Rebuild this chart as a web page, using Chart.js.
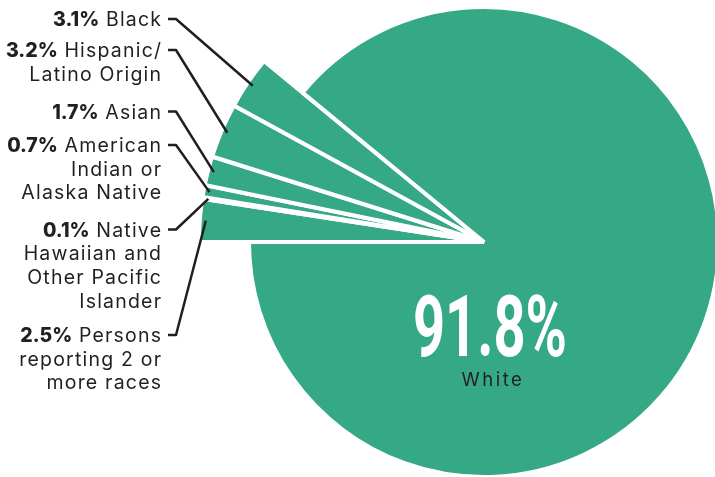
<!DOCTYPE html>
<html>
<head>
<meta charset="utf-8">
<script src="https://cdn.jsdelivr.net/npm/chart.js@4.4.1/dist/chart.umd.min.js"></script>
<style>
  html, body { margin: 0; padding: 0; background: #fff; }
  canvas { display: block; }
</style>
</head>
<body>
<canvas id="raceChart" width="715" height="477"></canvas>
<script>
// population share by race (%), listed clockwise starting at 9 o'clock
const categories = ['Persons reporting 2 or more races', 'Native Hawaiian and Other Pacific Islander',
  'American Indian or Alaska Native', 'Asian', 'Hispanic/Latino Origin', 'Black', 'White'];
const shares = [2.5, 0.1, 0.7, 1.7, 3.2, 3.1, 91.8];
// how each callout is broken into lines (the bold % goes in front of line 1)
const labelLines = [
  ['Persons', 'reporting 2 or', 'more races'],
  ['Native', 'Hawaiian and', 'Other Pacific', 'Islander'],
  ['American', 'Indian or', 'Alaska Native'],
  ['Asian'],
  ['Hispanic/', 'Latino Origin'],
  ['Black'],
  ['White']
];
const featured = 'White';

// --- look & layout ---
const GREEN = '#35a886';
const INK = '#231f20';
const FONT = 'Inter, "Open Sans", sans-serif';
const FS = 19.5;
const SPACING = 1.2;  // the original face is wider, spread letters a little
const LINE_H = 23.7;
const BIG_R = 235;    // featured slice
const SMALL_R = 285;  // the thin slices stick out further
const LABEL_RIGHT = 161;
const labelBaseline = [342, 236.5, 152, 118.5, 57, 26]; // baseline of first line per callout

// give the thin slices a bigger radius than the main one
const sliceRadius = {
  id: 'sliceRadius',
  beforeDatasetsDraw(chart) {
    chart.getDatasetMeta(0).data.forEach((arc, i) => {
      arc.outerRadius = categories[i] === featured ? BIG_R : SMALL_R;
    });
  }
};

const callouts = {
  id: 'callouts',
  afterDatasetsDraw(chart) {
    const ctx = chart.ctx;
    const arcs = chart.getDatasetMeta(0).data;
    ctx.save();
    ctx.textBaseline = 'alphabetic';
    const right = LABEL_RIGHT + SPACING; // trailing spacing is counted in the width

    arcs.forEach((arc, i) => {
      if (categories[i] === featured) return;
      const { x, y, startAngle, endAngle } = arc.getProps(['x', 'y', 'startAngle', 'endAngle'], true);
      const mid = (startAngle + endAngle) / 2;
      const base = labelBaseline[i];
      const lines = labelLines[i];

      ctx.fillStyle = INK;
      ctx.textAlign = 'right';
      ctx.letterSpacing = SPACING + 'px';
      ctx.font = `400 ${FS}px ${FONT}`;
      const rest = ' ' + lines[0];
      ctx.fillText(rest, right, base);
      const restW = ctx.measureText(rest).width;
      for (let k = 1; k < lines.length; k++) {
        ctx.fillText(lines[k], right, base + k * LINE_H);
      }
      ctx.letterSpacing = '0px';
      ctx.font = `800 ${FS}px ${FONT}`;
      ctx.fillText(shares[i].toFixed(1) + '%', right - restW, base);

      // leader line: short tick then straight to the slice
      const ty = base - 7;
      const r = SMALL_R - 6;
      ctx.beginPath();
      ctx.moveTo(168, ty);
      ctx.lineTo(176, ty);
      ctx.lineTo(x + Math.cos(mid) * r, y + Math.sin(mid) * r);
      ctx.strokeStyle = INK;
      ctx.lineWidth = 2.5;
      ctx.lineJoin = 'round';
      ctx.stroke();
    });

    // big number inside the main slice
    const idx = categories.indexOf(featured);
    const { x, y } = arcs[idx].getProps(['x', 'y'], true);
    const txt = shares[idx].toFixed(1) + '%';
    ctx.letterSpacing = '0px';
    ctx.textAlign = 'center';
    ctx.fillStyle = '#fff';
    ctx.font = 'bold 86px Roboto, sans-serif';
    const sx = 154 / ctx.measureText(txt).width;
    ctx.save();
    ctx.translate(x + 6, y + 114);
    ctx.scale(sx, 1);
    ctx.fillText(txt, 0, 0);
    ctx.restore();

    ctx.fillStyle = INK;
    ctx.letterSpacing = '2.5px';
    ctx.font = `400 18.5px ${FONT}`;
    ctx.fillText(labelLines[idx][0], x + 9, y + 144);
    ctx.restore();
  }
};

new Chart(document.getElementById('raceChart'), {
  type: 'pie',
  data: {
    labels: categories,
    datasets: [{
      data: shares,
      backgroundColor: GREEN,
      borderColor: '#fff',
      borderWidth: 4
    }]
  },
  options: {
    responsive: false,
    animation: false,
    events: [],
    rotation: 270,
    radius: BIG_R,
    layout: { padding: { left: 253, right: 0, top: 7, bottom: 0 } },
    plugins: {
      legend: { display: false },
      tooltip: { enabled: false }
    }
  },
  plugins: [sliceRadius, callouts]
});
</script>
</body>
</html>
